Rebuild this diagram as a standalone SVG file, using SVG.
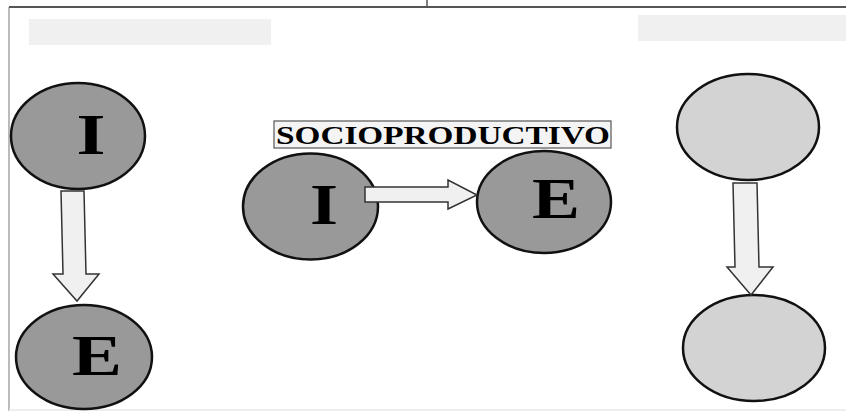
<svg xmlns="http://www.w3.org/2000/svg" width="846" height="411" viewBox="0 0 846 411">
<style>
.dark{fill:#999999;stroke:#111;stroke-width:2.5}
.light{fill:#d3d3d3;stroke:#111;stroke-width:2.5}
.arrow{fill:#f0f0f0;stroke:#333;stroke-width:1.5;stroke-linejoin:miter}
.big{font-family:"Liberation Serif","Times New Roman",serif;font-weight:bold;font-size:57px;fill:#000}
.lbl{font-family:"Liberation Serif","Times New Roman",serif;font-weight:bold;font-size:25px;fill:#000}
.bar{fill:#f0f0f0}
</style>
<rect width="846" height="411" fill="#fff"/>
<g id="frame">
<line x1="9" y1="7" x2="846" y2="7" stroke="#555" stroke-width="2"/>
<line x1="427" y1="0" x2="427" y2="7" stroke="#555" stroke-width="1.5"/>
<line x1="9" y1="7" x2="9" y2="411" stroke="#777" stroke-width="1"/>
<line x1="9" y1="410" x2="846" y2="410" stroke="#eee" stroke-width="2"/>
</g>
<rect class="bar" x="29" y="19" width="242" height="26"/>
<rect class="bar" x="638" y="15" width="208" height="26"/>
<g id="left-I">
<ellipse class="dark" cx="78" cy="136" rx="67" ry="53"/>
<text class="big" x="91" y="154" text-anchor="middle" textLength="29" lengthAdjust="spacingAndGlyphs">I</text>
</g>
<g id="left-E">
<ellipse class="dark" cx="84" cy="357" rx="68" ry="52"/>
<text class="big" x="97" y="375" text-anchor="middle" textLength="50" lengthAdjust="spacingAndGlyphs">E</text>
</g>
<g id="label">
<rect x="274" y="121" width="337" height="27" fill="#f4f4f4" stroke="#555" stroke-width="1.2"/>
<text class="lbl" x="276" y="144" textLength="334" lengthAdjust="spacingAndGlyphs">SOCIOPRODUCTIVO</text>
</g>
<g id="mid-I">
<ellipse class="dark" cx="310.5" cy="206.5" rx="67.5" ry="53"/>
<text class="big" x="324" y="224" text-anchor="middle" textLength="28" lengthAdjust="spacingAndGlyphs">I</text>
</g>
<g id="mid-E">
<ellipse class="dark" cx="544" cy="202" rx="67" ry="51"/>
<text class="big" x="556" y="218" text-anchor="middle" textLength="48" lengthAdjust="spacingAndGlyphs">E</text>
</g>
<g id="right-top">
<ellipse class="light" cx="748" cy="127" rx="71" ry="53"/>
</g>
<g id="right-bottom">
<ellipse class="light" cx="754" cy="348" rx="71" ry="53"/>
</g>
<g id="connectors">
<polygon class="arrow" points="61,191 84,191 86,274 99,274 77,301 53,274 63,274"/>
<polygon class="arrow" points="365,187 448,187 448,180 477,195 448,209 448,202 365,202"/>
<polygon class="arrow" points="733,183 757,183 759,267 773,267 751,295 727,267 735,267"/>
</g>
</svg>
